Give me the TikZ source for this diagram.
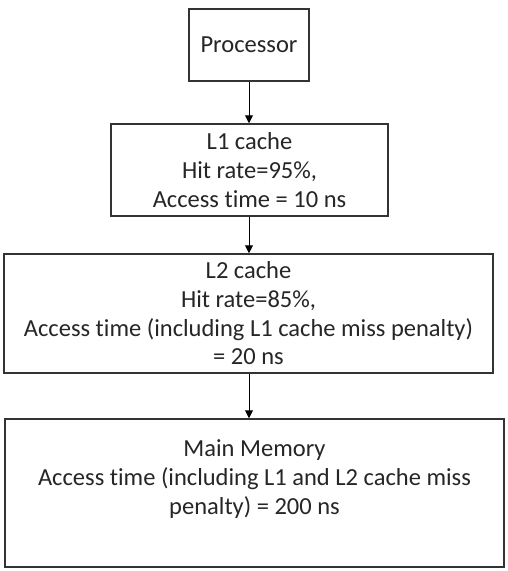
\documentclass[tikz,border=0pt]{standalone}
\usepackage{fontspec}
\setmainfont{Carlito}[Ligatures=NoCommon,RawFeature=-liga]
\usetikzlibrary{arrows.meta}
\begin{document}
\begin{tikzpicture}[x=1pt,y=-1pt,
  box/.style={draw=black!80,line width=1.5pt,rectangle,inner sep=0pt,align=center,
    font=\fontsize{24.5}{28.7}\selectfont,text=black!85},
  link/.style={draw=black,line width=1pt,-{Triangle[length=8pt,width=8pt]}}]
\useasboundingbox[fill=white] (0,0) rectangle (508,571);
\node[box,minimum width=120pt,minimum height=72pt] (proc) at (249,45) {Processor};
\node[box,minimum width=277pt,minimum height=92pt] (l1) at (249.5,170) {L1 cache\\Hit rate=95\%,\\Access time = 10 ns};
\node[box,minimum width=489pt,minimum height=119pt] (l2) at (248.5,313.5) {L2 cache\\Hit rate=85\%,\\Access time (including L1 cache miss penalty)\\= 20 ns};
\node[box,minimum width=499pt,minimum height=148pt] (mm) at (254.5,493) {};
\node[align=center,font=\fontsize{24.5}{28.7}\selectfont,text=black!85] (mmtext) at (254.5,479) {Main Memory\\Access time (including L1 and L2 cache miss\\penalty) = 200 ns};
\draw[link] (proc.south -| 249,0) -- (l1.north -| 249,0);
\draw[link] (l1.south -| 249,0) -- (l2.north -| 249,0);
\draw[link] (l2.south -| 249,0) -- (mm.north -| 249,0);
\end{tikzpicture}
\end{document}
